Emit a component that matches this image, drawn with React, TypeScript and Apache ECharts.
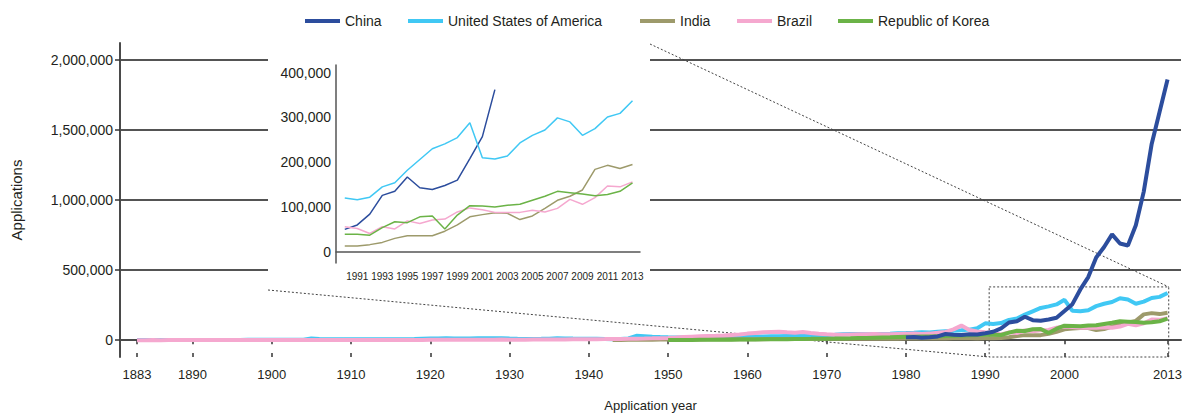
import React, { useEffect, useRef } from "react";
import * as echarts from "echarts";

// ---------------- DATA ----------------
const chinaStart = 1980;
const chinaValues = [
  20000, 22000, 18000, 21000, 27000, 44000, 39000, 37000, 43000, 41000,
  50000, 60000, 84000, 126000, 135000, 167000, 143000, 139000, 148000, 160000,
  208000, 257000, 362000, 450000, 590000, 665000, 755000, 690000, 675000, 820000,
  1060000, 1400000, 1630000, 1860000,
];

const usaStart = 1883;
const usaValues = [
  1200, 1000, 1300, 1500, 1400, 1700, 1600,
  1800, 1900, 2100, 1700, 1600, 1900, 2000, 2200, 2300, 2500,
  2600, 2800, 2900, 3100, 3400, 12500, 8600, 7400, 6900, 6500,
  6100, 6400, 6300, 6700, 6200, 6000, 6800, 7300, 7900, 10500,
  12800, 11600, 13400, 12100, 11800, 12300, 13200, 13600, 13900, 13100,
  11400, 9800, 8600, 9100, 9700, 10800, 12900, 12200, 11100, 10600,
  10200, 9400, 7800, 7200, 8300, 12600, 31400, 27600, 23800, 21900,
  20800, 19900, 19400, 20600, 21900, 22800, 23500, 24300, 24900, 25600,
  26100, 25400, 26800, 27900, 28800, 29600, 30400, 31200, 32700, 33900,
  36500, 39100, 41800, 43900, 44200, 42400, 43200, 44300, 46700, 49800,
  51500, 53800, 57200, 55100, 60400, 64100, 66800, 70600, 75400, 84700,
  120000, 116000, 122000, 145000, 154000, 182000, 206000, 230000, 241000, 255000,
  288000, 210000, 207000, 214000, 243000, 260000, 272000, 299000, 290000, 260000,
  275000, 301000, 309000, 337000,
];

const indiaStart = 1943;
const indiaValues = [
  1800, 2100, 2400, 2900, 3300, 3700, 4100,
  4400, 4700, 5100, 5200, 5600, 5800, 6200, 6300, 6700, 6900,
  7100, 7400, 7500, 7900, 8100, 8200, 8600, 8800, 8900, 9200,
  9400, 9700, 9800, 10100, 9700, 9500, 9900, 10300, 10600, 10900,
  11200, 11500, 11100, 11800, 12200, 12600, 12900, 13400, 13100, 12800,
  13000, 13000, 16000, 21000, 30000, 36000, 36000, 36000, 46000, 60000,
  78000, 83000, 87000, 86000, 72000, 80000, 97000, 115000, 124000, 138000,
  184000, 193000, 186000, 195000,
];

const brazilStart = 1883;
const brazilValues = [
  300, 350, 400, 380, 420, 450, 500,
  520, 600, 640, 580, 610, 700, 750, 820, 780, 850,
  900, 950, 1000, 1100, 1150, 1200, 1300, 1250, 1400, 1500,
  1600, 1700, 1800, 1750, 1500, 1400, 1600, 1700, 1900, 2100,
  2400, 2600, 2800, 3000, 3200, 3400, 3600, 3700, 3900, 4100,
  3800, 3500, 3700, 4000, 4300, 4600, 5000, 5400, 5800, 6100,
  6900, 7400, 7800, 8300, 8900, 9600, 10800, 11900, 13200, 14600,
  16300, 19200, 22400, 25100, 27800, 29900, 31400, 33800, 37500, 41200,
  46800, 51400, 55800, 58600, 60200, 56400, 53300, 57700, 51600, 46100,
  41800, 39600, 38400, 40200, 41700, 43100, 44600, 42800, 41500, 43900,
  45600, 47300, 44900, 46800, 52400, 58900, 76800, 104000, 72500, 61800,
  56000, 52000, 41000, 56000, 51000, 69000, 63000, 71000, 73000, 89000,
  98000, 94000, 88000, 88000, 88000, 93000, 89000, 97000, 117000, 106000,
  121000, 147000, 145000, 156000,
];

const koreaStart = 1950;
const koreaValues = [
  1200, 1500, 1800, 2100, 2500, 2800, 3200, 3500, 3900, 4300,
  4700, 5200, 5800, 6300, 6900, 7400, 8100, 8800, 9400, 10100,
  10900, 11600, 12400, 13300, 14800, 16200, 17900, 19400, 20800, 22300,
  23600, 24800, 25900, 26700, 28100, 29400, 30800, 32600, 34900, 37200,
  39000, 39000, 37000, 54000, 67000, 65000, 78000, 80000, 51000, 82000,
  103000, 102000, 100000, 104000, 106000, 115000, 124000, 135000, 132000, 129000,
  125000, 128000, 135000, 154000,
];

const mainXTicks = [1883, 1890, 1900, 1910, 1920, 1930, 1940, 1950, 1960, 1970, 1980, 1990, 2000, 2013];
const mainYTicks = [0, 500000, 1000000, 1500000, 2000000];
const insetXTicks = [1991, 1993, 1995, 1997, 1999, 2001, 2003, 2005, 2007, 2009, 2011, 2013];
const insetYTicks = [0, 100000, 200000, 300000, 400000];
const insetFrom = 1990;
const insetChinaTo = 2002;

const seriesDefs = [
  { name: "China", start: chinaStart, values: chinaValues, color: "#2c4d9d", z: 3, insetTo: insetChinaTo, legendLeft: 305 },
  { name: "United States of America", start: usaStart, values: usaValues, color: "#40c8f4", z: 2, insetTo: 2013, legendLeft: 408 },
  { name: "India", start: indiaStart, values: indiaValues, color: "#9d9a6b", z: 2, insetTo: 2013, legendLeft: 640 },
  { name: "Brazil", start: brazilStart, values: brazilValues, color: "#f5a8cf", z: 2, insetTo: 2013, legendLeft: 737 },
  { name: "Republic of Korea", start: koreaStart, values: koreaValues, color: "#6bb347", z: 2, insetTo: 2013, legendLeft: 838 },
];

const FONT = "'Liberation Sans', Arial, sans-serif";
const TXT = "#231f20";
const fmt = (v: number) => Math.round(v).toLocaleString("en-US");

export default function App() {
  const ref = useRef<HTMLDivElement>(null);
  useEffect(() => {
    if (!ref.current) return;
    const chart = echarts.init(ref.current, undefined, { renderer: "svg" });

    const mainSeries = seriesDefs.map((s) => ({
      type: "line",
      name: s.name,
      xAxisIndex: 0,
      yAxisIndex: 0,
      data: s.values.map((v, i) => [s.start + i, v]),
      symbol: "none",
      showSymbol: false,
      lineStyle: { width: 4, color: s.color },
      itemStyle: { color: s.color },
      z: s.z,
    }));
    const insetSeries = seriesDefs.map((s) => ({
      type: "line",
      name: s.name,
      xAxisIndex: 2,
      yAxisIndex: 1,
      data: s.values
        .map((v, i) => [s.start + i, v])
        .filter((p) => p[0] >= insetFrom && p[0] <= s.insetTo),
      symbol: "none",
      showSymbol: false,
      lineStyle: { width: 1.5, color: s.color },
      itemStyle: { color: s.color },
      z: 6,
    }));

    const legends = seriesDefs.map((s) => ({
      data: [s.name],
      left: s.legendLeft,
      top: 14,
      padding: 0,
      icon: "rect",
      itemWidth: 35,
      itemHeight: 4,
      textStyle: { fontFamily: FONT, fontSize: 14, color: TXT },
    }));

    chart.setOption({
      animation: false,
      backgroundColor: "#ffffff",
      textStyle: { fontFamily: FONT },
      legend: legends,
      grid: [
        { left: 120, right: 0, top: 43, bottom: 58 },
        { left: 336, top: 65, width: 304, height: 198 },
      ],
      xAxis: [
        {
          type: "value",
          gridIndex: 0,
          min: 1880.86,
          max: 2014.7,
          position: "bottom",
          axisLine: { show: true, lineStyle: { color: "#4a4a4a", width: 2 } },
          axisTick: { show: true, customValues: mainXTicks, length: 4, lineStyle: { color: "#333", width: 1.5 } },
          axisLabel: {
            customValues: mainXTicks,
            formatter: (v: number) => String(v),
            fontSize: 13,
            margin: 11,
            color: TXT,
            fontFamily: FONT,
            showMinLabel: true,
            showMaxLabel: true,
          },
          splitLine: { show: false },
          name: "Application year",
          nameLocation: "middle",
          nameGap: 42,
          nameTextStyle: { fontSize: 13, color: TXT, fontFamily: FONT },
        },
        {
          type: "value",
          gridIndex: 0,
          min: 1880.86,
          max: 2014.7,
          position: "bottom",
          axisLine: { show: false },
          axisTick: { show: true, inside: true, customValues: mainXTicks, length: 4, lineStyle: { color: "#333", width: 1.5 } },
          axisLabel: { show: false, customValues: mainXTicks },
          splitLine: { show: false },
        },
        {
          type: "value",
          gridIndex: 1,
          min: 1989.3,
          max: 2013.6,
          z: 5,
          axisLine: { show: true, lineStyle: { color: "#555", width: 1.5 } },
          axisTick: { show: false },
          axisLabel: {
            customValues: insetXTicks,
            formatter: (v: number) => String(v),
            fontSize: 10,
            margin: 8,
            color: TXT,
            fontFamily: FONT,
            showMinLabel: true,
            showMaxLabel: true,
            hideOverlap: false,
          },
          splitLine: { show: false },
        },
      ],
      yAxis: [
        {
          type: "value",
          gridIndex: 0,
          min: -120000,
          max: 2120000,
          axisLine: { show: true, lineStyle: { color: "#4a4a4a", width: 2 } },
          axisTick: { show: true, customValues: mainYTicks, length: 5, lineStyle: { color: "#333", width: 1.5 } },
          axisLabel: {
            customValues: mainYTicks,
            formatter: fmt,
            fontSize: 14,
            margin: 7,
            color: TXT,
            fontFamily: FONT,
          },
          splitLine: { show: true, lineStyle: { color: "#1a1a1a", width: 1.5 } },
          name: "Applications",
          nameLocation: "middle",
          nameRotate: 90,
          nameGap: 96,
          nameTextStyle: { fontSize: 15, color: TXT, fontFamily: FONT },
        },
        {
          type: "value",
          gridIndex: 1,
          min: -25000,
          max: 417000,
          z: 5,
          axisLine: { show: true, lineStyle: { color: "#555", width: 1.5 } },
          axisTick: { show: false },
          axisLabel: {
            customValues: insetYTicks,
            formatter: fmt,
            fontSize: 14,
            margin: 5,
            color: TXT,
            fontFamily: FONT,
          },
          splitLine: { show: false },
        },
      ],
      series: [...mainSeries, ...insetSeries],
    });

    const a = chart.convertToPixel({ xAxisIndex: 0, yAxisIndex: 0 }, [1990.5, 380000]) as number[];
    const b = chart.convertToPixel({ xAxisIndex: 0, yAxisIndex: 0 }, [2013.15, -120000]) as number[];
    const insetBox = { x: 268, y: 44, w: 382, h: 246 };
    const dotted = { stroke: "#444", lineWidth: 1, lineDash: [2, 2], fill: null };
    chart.setOption({
      graphic: {
        elements: [
          {
            type: "rect",
            z: 1,
            shape: { x: insetBox.x, y: insetBox.y, width: insetBox.w, height: insetBox.h },
            style: { fill: "#ffffff" },
            silent: true,
          },
          {
            type: "rect",
            z: 1,
            shape: { x: a[0], y: a[1], width: b[0] - a[0], height: b[1] - a[1] },
            style: { ...dotted, fill: "transparent" },
            silent: true,
          },
          {
            type: "line",
            z: 1,
            shape: { x1: insetBox.x, y1: insetBox.y + insetBox.h, x2: a[0], y2: b[1] },
            style: dotted,
            silent: true,
          },
          {
            type: "line",
            z: 1,
            shape: { x1: insetBox.x + insetBox.w, y1: insetBox.y, x2: b[0], y2: a[1] },
            style: dotted,
            silent: true,
          },
        ],
      },
    });

    return () => chart.dispose();
  }, []);
  return (
    <div
      ref={ref}
      style={{ position: "absolute", left: 0, top: 0, width: 1185, height: 417 }}
    />
  );
}
